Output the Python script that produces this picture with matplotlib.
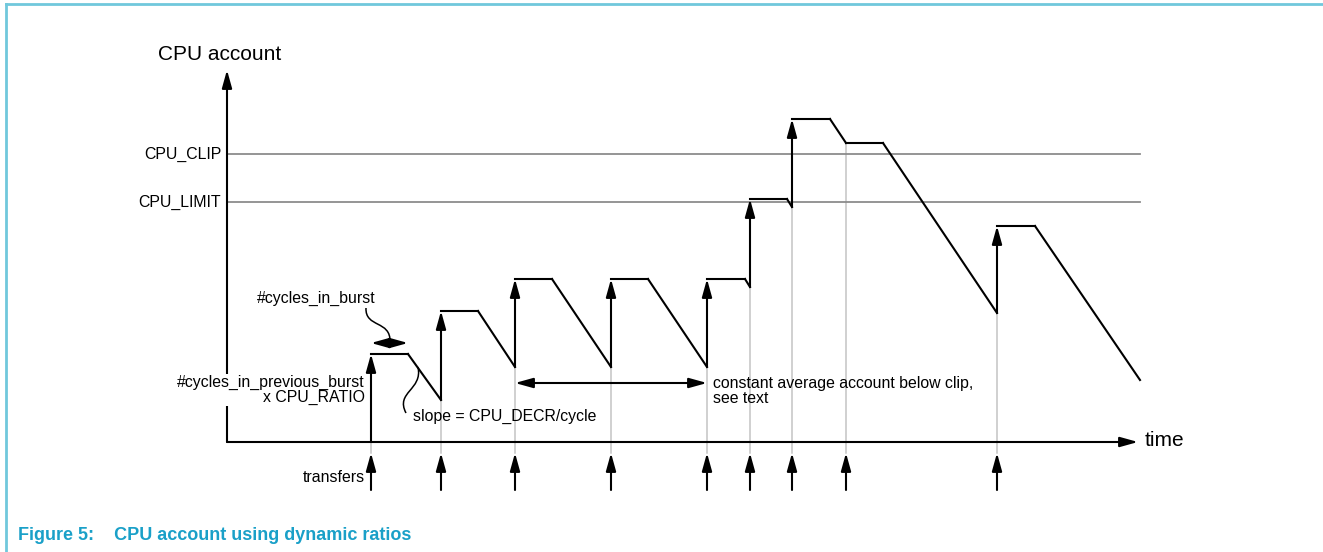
import matplotlib.pyplot as plt
from matplotlib.path import Path
from matplotlib.patches import PathPatch

plt.rcParams['font.family'] = ['Liberation Sans', 'DejaVu Sans']

# time of each transfer (arbitrary units)
transfers = [14.4, 21.4, 28.8, 38.4, 48.0, 52.3, 56.5, 61.9, 77.0]

# CPU account over time (vertical steps happen at transfers)
curve_t = [14.4, 14.4, 18.1, 21.4, 21.4, 25.1, 28.8, 28.8, 32.5, 38.4, 38.4, 42.1,
           48.0, 48.0, 51.8, 52.3, 52.3, 56.0, 56.5, 56.5, 60.3, 61.9, 65.6, 77.0,
           77.0, 80.8, 91.3]
curve_a = [0.0, 8.8, 8.8, 4.2, 13.1, 13.1, 7.5, 16.3, 16.3, 7.5, 16.3, 16.3,
           7.5, 16.3, 16.3, 15.5, 24.3, 24.3, 23.5, 32.3, 32.3, 29.9, 29.9, 12.9,
           21.6, 21.6, 6.2]

CPU_LIMIT = 24.0
CPU_CLIP = 28.8
t_end = 91.3

fig = plt.figure(figsize=(13.23, 5.52), dpi=100)
ax = fig.add_axes([0, 0, 1, 1])
ax.set_xlim(-22.7, 109.6)
ax.set_ylim(-11.0, 44.2)
ax.axis('off')

fs = 11.4
head = dict(arrowstyle='-|>,head_length=0.9,head_width=0.25', color='black',
            lw=1.5, shrinkA=0, shrinkB=0, mutation_scale=12)

# frame of the figure box
fig.add_artist(plt.Line2D([6 / 1323, 1], [1 - 4 / 552, 1 - 4 / 552], color='#70c8dc', lw=2))
fig.add_artist(plt.Line2D([6 / 1323, 6 / 1323], [0, 1 - 4 / 552], color='#70c8dc', lw=2))

# axes arrows
ax.annotate('', xy=(0, 37.2), xytext=(0, 0), arrowprops=head)
ax.annotate('', xy=(91.1, 0), xytext=(0, 0), arrowprops=head)
ax.text(-0.7, 38.7, 'CPU account', ha='center', va='center', fontsize=15)
ax.text(91.8, 0.2, 'time', ha='left', va='center', fontsize=15)

# limit lines
for lvl, name in [(CPU_CLIP, 'CPU_CLIP'), (CPU_LIMIT, 'CPU_LIMIT')]:
    ax.plot([0, t_end], [lvl, lvl], color='#8c8c8c', lw=1.3, zorder=1)
    ax.text(-0.6, lvl, name, ha='right', va='center', fontsize=fs)

# the account curve: slopes and plateaus in black, steps as arrows
for i in range(len(curve_t) - 1):
    t0, t1 = curve_t[i], curve_t[i + 1]
    a0, a1 = curve_a[i], curve_a[i + 1]
    if t0 == t1:
        ax.annotate('', xy=(t1, a1), xytext=(t0, a0), arrowprops=head)
    else:
        ax.plot([t0, t1], [a0, a1], color='black', lw=1.5, zorder=3)

# transfers below the time axis, with grey guides up to the curve
for t in transfers:
    lows = [a for tt, a in zip(curve_t, curve_a) if tt == t]
    ax.plot([t, t], [-1.1, min(lows)], color='#c4c4c4', lw=1.1, zorder=0)
    ax.annotate('', xy=(t, -1.1), xytext=(t, -4.8), arrowprops=head)
ax.text(13.8, -3.6, 'transfers', ha='right', va='center', fontsize=fs)

# burst length
dbl = dict(head, arrowstyle='<|-|>,head_length=0.9,head_width=0.25')
ax.annotate('', xy=(curve_t[2], 9.9), xytext=(curve_t[1], 9.9), arrowprops=dbl)
ax.text(8.9, 14.4, '#cycles_in_burst', ha='center', va='center', fontsize=fs)
p = Path([(13.9, 13.4), (13.8, 11.4), (16.4, 12.2), (16.3, 10.0)],
         [Path.MOVETO, Path.CURVE4, Path.CURVE4, Path.CURVE4])
ax.add_patch(PathPatch(p, fc='none', ec='black', lw=1.1))

ax.text(13.8, 5.2, '#cycles_in_previous_burst\nx CPU_RATIO', ha='right', va='center',
        fontsize=fs, linespacing=0.95,
        bbox=dict(fc='white', ec='none', pad=1), zorder=4)

# slope
p = Path([(19.1, 7.5), (19.6, 5.2), (16.8, 5.0), (17.9, 2.9)],
         [Path.MOVETO, Path.CURVE4, Path.CURVE4, Path.CURVE4])
ax.add_patch(PathPatch(p, fc='none', ec='black', lw=1.1))
ax.text(18.6, 2.6, 'slope = CPU_DECR/cycle', ha='left', va='center', fontsize=fs)

# constant average
ax.annotate('', xy=(transfers[4], 5.9), xytext=(transfers[2], 5.9), arrowprops=dbl)
ax.text(48.6, 5.1, 'constant average account below clip,\nsee text', ha='left',
        va='center', fontsize=fs, linespacing=0.95)

fig.text(18 / 1323, 1 - 535 / 552, 'Figure 5:    CPU account using dynamic ratios',
         ha='left', va='center', fontsize=13, fontweight='bold', color='#1aa0c8')

fig.savefig('out.png', dpi=100)
